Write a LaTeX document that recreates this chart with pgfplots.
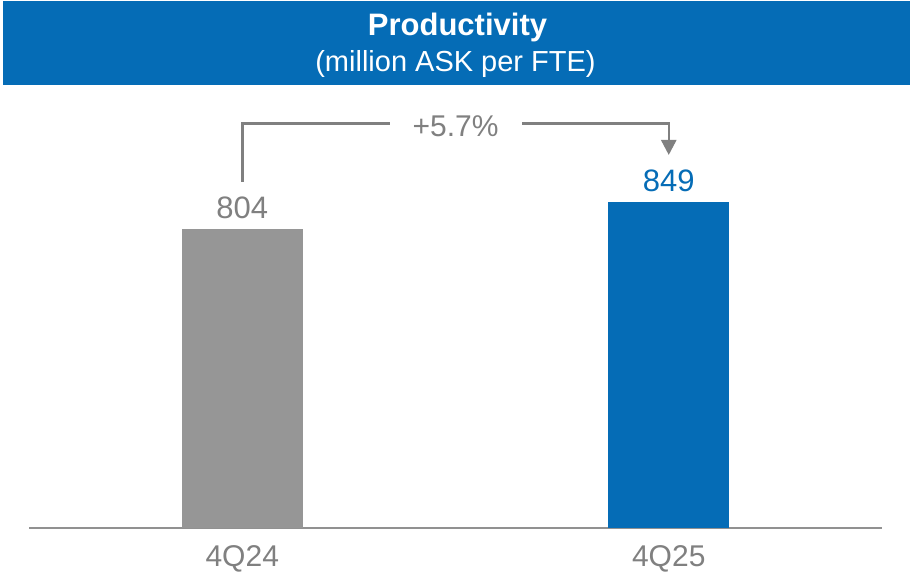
\documentclass[border=0pt]{standalone}
\usepackage{pgfplots}
\pgfplotsset{compat=1.18}
\usepackage{fontspec}
\setmainfont{Liberation Sans}
\usetikzlibrary{arrows.meta}
\definecolor{brandblue}{RGB}{5,108,182}
\definecolor{bargray}{RGB}{150,150,150}
\definecolor{labelgray}{RGB}{128,128,128}
\definecolor{linegray}{RGB}{145,145,145}
\begin{document}
\begin{tikzpicture}[x=1pt,y=1pt]
\useasboundingbox (0,0) rectangle (910,582);
% header banner
\fill[brandblue] (3,497) rectangle (910,581);
\node[anchor=base, text=white, font=\bfseries\fontsize{31}{31}\selectfont, inner sep=0pt] at (457.5,546) {Productivity};
\node[anchor=base, text=white, font=\fontsize{29}{29}\selectfont, inner sep=0pt] at (455.5,510.3) {(million ASK per FTE)};
\begin{axis}[
  at={(29pt,54pt)}, anchor=south west,
  scale only axis, width=853pt, height=428pt,
  xmin=-0.5, xmax=1.5, ymin=306, ymax=1019.33,
  axis x line=bottom, axis y line=none,
  x axis line style={-, draw=linegray, line width=2pt},
  ytick=\empty, xtick={0,1}, xticklabels={4Q24,4Q25},
  major tick length=0pt,
  xticklabel style={font=\fontsize{30}{30}\selectfont, text=labelgray, anchor=base, inner sep=0pt, yshift=-38.7pt},
  ybar, bar width=121pt, bar shift=0pt,
  point meta=explicit symbolic,
  nodes near coords,
  every node near coord/.append style={font=\fontsize{31}{31}\selectfont, anchor=base, inner sep=0pt, yshift=11pt},
]
\addplot[fill=bargray, draw=none, every node near coord/.append style={text=labelgray}]
  coordinates {(0,804) [804]};
\addplot[fill=brandblue, draw=none, every node near coord/.append style={text=brandblue}]
  coordinates {(1,849) [849]};
% change bracket between the two quarters
\draw[labelgray, line width=2.5pt] (axis cs:0,882.7) |- (axis cs:0.3454,980.2);
\draw[labelgray, line width=2.5pt, -{Triangle[width=15pt,length=15pt]}]
  (axis cs:0.657,980.2) -| (axis cs:1,927.7);
\node[text=labelgray, font=\fontsize{30}{30}\selectfont, anchor=base, inner sep=0pt]
  at (axis cs:0.5,957.7) {+5.7\%};
\end{axis}
\end{tikzpicture}
\end{document}
